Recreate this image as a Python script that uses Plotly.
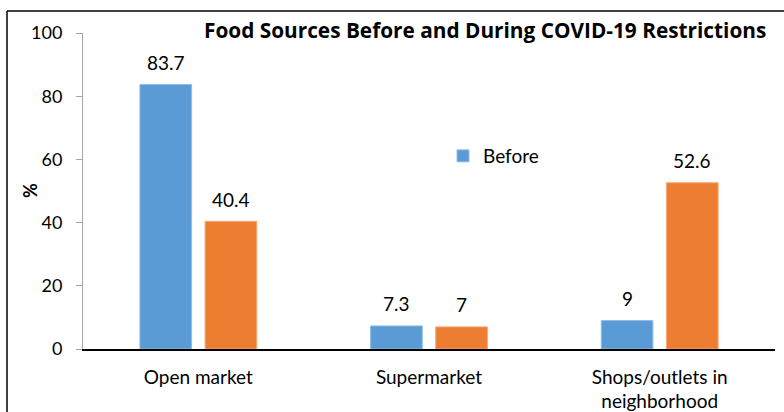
import plotly.graph_objects as go

categories = ["Open market", "Supermarket", "Shops/outlets in<br>neighborhood"]
before = [83.7, 7.3, 9]
during = [40.4, 7, 52.6]
series_names = ["Before", "During"]
title_text = "Food Sources Before and During COVID-19 Restrictions"
y_ticks = [0, 20, 40, 60, 80, 100]

BLUE = "#5B9BD5"
ORANGE = "#ED7D31"
FONT = "Lato"
TITLE_FONT = "Open Sans"

W, H = 784, 412
ML, MR, MT, MB = 83, 9, 33, 63
plot_w = W - ML - MR
plot_h = H - MT - MB
bargap = 0.435
bargroupgap = 0.207


def px_x(p):
    return (p - ML) / plot_w


def px_y(p):
    return (H - MB - p) / plot_h


fig = go.Figure()
fig.add_trace(go.Bar(x=categories, y=before, name=series_names[0],
                     marker=dict(color=BLUE, line=dict(color="#8fbde6", width=1))))
fig.add_trace(go.Bar(x=categories, y=during, name=series_names[1], showlegend=False,
                     marker=dict(color=ORANGE, line=dict(color="#f4a678", width=1))))

# value labels above bars (centred over each bar of the group)
cat_w = plot_w / len(categories)
slot = cat_w * (1 - bargap) / 2
annotations = []
for vals, sign in ((before, -1), (during, 1)):
    for c, v in zip(categories, vals):
        annotations.append(dict(x=c, y=v, xref="x", yref="y", text=f"{v:g}",
                                showarrow=False, xshift=sign * slot / 2, yshift=22,
                                yanchor="middle",
                                font=dict(family=FONT, size=19, color="#000")))

# title
annotations.append(dict(x=px_x(202), y=px_y(30), xref="paper", yref="paper",
                        text=f"<b>{title_text}</b>", showarrow=False, xanchor="left",
                        yanchor="middle", font=dict(family=TITLE_FONT, size=20.8, color="#000")))
# y axis title
annotations.append(dict(x=px_x(30), y=px_y(191), xref="paper", yref="paper",
                        text="<b>%</b>", showarrow=False, textangle=-90,
                        xanchor="center", yanchor="middle",
                        font=dict(family=FONT, size=18, color="#000")))

border = dict(color="#000", width=1.5)
fig.update_layout(
    width=W, height=H, autosize=False,
    margin=dict(l=ML, r=MR, t=MT, b=MB, pad=0, autoexpand=False),
    paper_bgcolor="white", plot_bgcolor="white",
    barmode="group", bargap=bargap, bargroupgap=bargroupgap,
    font=dict(family=FONT, size=18, color="#000"),
    showlegend=True,
    legend=dict(x=px_x(443), y=px_y(137), xanchor="left", yanchor="top",
                bgcolor="rgba(0,0,0,0)", font=dict(family=FONT, size=19, color="#000"),
                itemwidth=30, tracegroupgap=0),
    annotations=annotations,
    shapes=[
        dict(type="line", xref="paper", yref="paper", x0=px_x(7), x1=px_x(W),
             y0=px_y(11), y1=px_y(11), line=border),
        dict(type="line", xref="paper", yref="paper", x0=px_x(7), x1=px_x(7),
             y0=px_y(11), y1=px_y(H), line=border),
    ],
)
fig.update_xaxes(showline=True, linecolor="#000", linewidth=1.5, ticks="",
                 showgrid=False, zeroline=False, ticklabelstandoff=10, automargin=False,
                 tickfont=dict(family=FONT, size=19, color="#000"))
fig.update_yaxes(range=[0, 100], tickvals=y_ticks, showline=True, linecolor="#a6a6a6",
                 linewidth=1, ticks="outside", ticklen=6, tickcolor="#a6a6a6",
                 showgrid=False, zeroline=False, ticklabelstandoff=10, automargin=False,
                 tickfont=dict(family=FONT, size=18, color="#000"))

fig.write_html("out.html", config={"displayModeBar": False},
               post_script="document.documentElement.style.overflow='hidden';"
                           "document.body.style.overflow='hidden';")
